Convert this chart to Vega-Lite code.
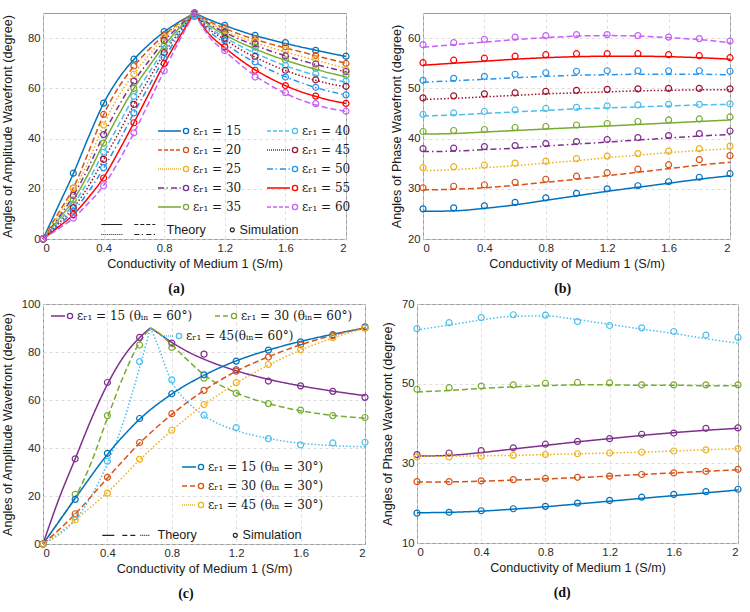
{
  "$schema": "https://vega.github.io/schema/vega-lite/v6.json",
  "background": "white",
  "padding": {"left": 0, "top": 7, "right": 4, "bottom": 4},
  "spacing": 0,
  "datasets": {
    "ta": [
      {"e":"15","s":"L","x":0,"y":0},{"e":"15","s":"L","x":0.1,"y":13},{"e":"15","s":"L","x":0.2,"y":26},{"e":"15","s":"L","x":0.3,"y":40.5},{"e":"15","s":"L","x":0.4,"y":54},{"e":"15","s":"L","x":0.5,"y":64},{"e":"15","s":"L","x":0.6,"y":71.5},{"e":"15","s":"L","x":0.7,"y":77.5},{"e":"15","s":"L","x":0.8,"y":82.5},{"e":"15","s":"L","x":0.9,"y":86.5},{"e":"15","s":"L","x":1,"y":90},
      {"e":"15","s":"R","x":1,"y":90},{"e":"15","s":"R","x":1.1,"y":87.3},{"e":"15","s":"R","x":1.2,"y":85},{"e":"15","s":"R","x":1.3,"y":82.9},{"e":"15","s":"R","x":1.4,"y":81},{"e":"15","s":"R","x":1.5,"y":79.4},{"e":"15","s":"R","x":1.6,"y":77.9},{"e":"15","s":"R","x":1.7,"y":76.5},{"e":"15","s":"R","x":1.8,"y":75.2},{"e":"15","s":"R","x":1.9,"y":73.9},{"e":"15","s":"R","x":2,"y":72.7},
      {"e":"20","s":"L","x":0,"y":0},{"e":"20","s":"L","x":0.1,"y":10.2},{"e":"20","s":"L","x":0.2,"y":20.3},{"e":"20","s":"L","x":0.3,"y":34.5},{"e":"20","s":"L","x":0.4,"y":49.5},{"e":"20","s":"L","x":0.5,"y":60.5},{"e":"20","s":"L","x":0.6,"y":68.8},{"e":"20","s":"L","x":0.7,"y":75.5},{"e":"20","s":"L","x":0.8,"y":81.2},{"e":"20","s":"L","x":0.9,"y":86},{"e":"20","s":"L","x":1,"y":90},
      {"e":"20","s":"R","x":1,"y":90},{"e":"20","s":"R","x":1.1,"y":86.6},{"e":"20","s":"R","x":1.2,"y":83.9},{"e":"20","s":"R","x":1.3,"y":81.5},{"e":"20","s":"R","x":1.4,"y":79.5},{"e":"20","s":"R","x":1.5,"y":77.7},{"e":"20","s":"R","x":1.6,"y":76.1},{"e":"20","s":"R","x":1.7,"y":74.6},{"e":"20","s":"R","x":1.8,"y":73},{"e":"20","s":"R","x":1.9,"y":71.5},{"e":"20","s":"R","x":2,"y":70},
      {"e":"25","s":"L","x":0,"y":0},{"e":"25","s":"L","x":0.1,"y":9.2},{"e":"25","s":"L","x":0.2,"y":18.8},{"e":"25","s":"L","x":0.3,"y":31},{"e":"25","s":"L","x":0.4,"y":45.4},{"e":"25","s":"L","x":0.5,"y":57},{"e":"25","s":"L","x":0.6,"y":65.8},{"e":"25","s":"L","x":0.7,"y":73.3},{"e":"25","s":"L","x":0.8,"y":80.2},{"e":"25","s":"L","x":0.9,"y":85.5},{"e":"25","s":"L","x":1,"y":90},
      {"e":"25","s":"R","x":1,"y":90},{"e":"25","s":"R","x":1.1,"y":86.1},{"e":"25","s":"R","x":1.2,"y":83},{"e":"25","s":"R","x":1.3,"y":80.4},{"e":"25","s":"R","x":1.4,"y":78.3},{"e":"25","s":"R","x":1.5,"y":76.3},{"e":"25","s":"R","x":1.6,"y":74.5},{"e":"25","s":"R","x":1.7,"y":72.8},{"e":"25","s":"R","x":1.8,"y":71.2},{"e":"25","s":"R","x":1.9,"y":69.6},{"e":"25","s":"R","x":2,"y":68},
      {"e":"30","s":"L","x":0,"y":0},{"e":"30","s":"L","x":0.1,"y":8.3},{"e":"30","s":"L","x":0.2,"y":17.2},{"e":"30","s":"L","x":0.3,"y":28.5},{"e":"30","s":"L","x":0.4,"y":41.5},{"e":"30","s":"L","x":0.5,"y":53},{"e":"30","s":"L","x":0.6,"y":62.8},{"e":"30","s":"L","x":0.7,"y":71},{"e":"30","s":"L","x":0.8,"y":78.8},{"e":"30","s":"L","x":0.9,"y":84.8},{"e":"30","s":"L","x":1,"y":90},
      {"e":"30","s":"R","x":1,"y":90},{"e":"30","s":"R","x":1.1,"y":85.6},{"e":"30","s":"R","x":1.2,"y":82.3},{"e":"30","s":"R","x":1.3,"y":79.5},{"e":"30","s":"R","x":1.4,"y":77.1},{"e":"30","s":"R","x":1.5,"y":74.9},{"e":"30","s":"R","x":1.6,"y":73},{"e":"30","s":"R","x":1.7,"y":71.2},{"e":"30","s":"R","x":1.8,"y":69.5},{"e":"30","s":"R","x":1.9,"y":68},{"e":"30","s":"R","x":2,"y":66.6},
      {"e":"35","s":"L","x":0,"y":0},{"e":"35","s":"L","x":0.1,"y":7.5},{"e":"35","s":"L","x":0.2,"y":15.5},{"e":"35","s":"L","x":0.3,"y":26},{"e":"35","s":"L","x":0.4,"y":38.2},{"e":"35","s":"L","x":0.5,"y":49.5},{"e":"35","s":"L","x":0.6,"y":60},{"e":"35","s":"L","x":0.7,"y":68.8},{"e":"35","s":"L","x":0.8,"y":77},{"e":"35","s":"L","x":0.9,"y":84},{"e":"35","s":"L","x":1,"y":90},
      {"e":"35","s":"R","x":1,"y":90},{"e":"35","s":"R","x":1.1,"y":85},{"e":"35","s":"R","x":1.2,"y":81.4},{"e":"35","s":"R","x":1.3,"y":78.3},{"e":"35","s":"R","x":1.4,"y":75.7},{"e":"35","s":"R","x":1.5,"y":73.3},{"e":"35","s":"R","x":1.6,"y":71.2},{"e":"35","s":"R","x":1.7,"y":69.3},{"e":"35","s":"R","x":1.8,"y":67.6},{"e":"35","s":"R","x":1.9,"y":66},{"e":"35","s":"R","x":2,"y":64.6},
      {"e":"40","s":"L","x":0,"y":0},{"e":"40","s":"L","x":0.1,"y":6.7},{"e":"40","s":"L","x":0.2,"y":13.8},{"e":"40","s":"L","x":0.3,"y":23.3},{"e":"40","s":"L","x":0.4,"y":34.5},{"e":"40","s":"L","x":0.5,"y":45.5},{"e":"40","s":"L","x":0.6,"y":56.7},{"e":"40","s":"L","x":0.7,"y":66.2},{"e":"40","s":"L","x":0.8,"y":75.4},{"e":"40","s":"L","x":0.9,"y":83.2},{"e":"40","s":"L","x":1,"y":90},
      {"e":"40","s":"R","x":1,"y":90},{"e":"40","s":"R","x":1.1,"y":84.2},{"e":"40","s":"R","x":1.2,"y":80.3},{"e":"40","s":"R","x":1.3,"y":76.9},{"e":"40","s":"R","x":1.4,"y":74},{"e":"40","s":"R","x":1.5,"y":71.4},{"e":"40","s":"R","x":1.6,"y":69},{"e":"40","s":"R","x":1.7,"y":67},{"e":"40","s":"R","x":1.8,"y":65.2},{"e":"40","s":"R","x":1.9,"y":63.7},{"e":"40","s":"R","x":2,"y":62.5},
      {"e":"45","s":"L","x":0,"y":0},{"e":"45","s":"L","x":0.1,"y":6},{"e":"45","s":"L","x":0.2,"y":12.4},{"e":"45","s":"L","x":0.3,"y":21},{"e":"45","s":"L","x":0.4,"y":31.6},{"e":"45","s":"L","x":0.5,"y":42.3},{"e":"45","s":"L","x":0.6,"y":53.5},{"e":"45","s":"L","x":0.7,"y":63.8},{"e":"45","s":"L","x":0.8,"y":74},{"e":"45","s":"L","x":0.9,"y":82.5},{"e":"45","s":"L","x":1,"y":90},
      {"e":"45","s":"R","x":1,"y":90},{"e":"45","s":"R","x":1.1,"y":83.5},{"e":"45","s":"R","x":1.2,"y":79.4},{"e":"45","s":"R","x":1.3,"y":75.6},{"e":"45","s":"R","x":1.4,"y":72.4},{"e":"45","s":"R","x":1.5,"y":69.6},{"e":"45","s":"R","x":1.6,"y":67.1},{"e":"45","s":"R","x":1.7,"y":65},{"e":"45","s":"R","x":1.8,"y":63.2},{"e":"45","s":"R","x":1.9,"y":61.7},{"e":"45","s":"R","x":2,"y":60.5},
      {"e":"50","s":"L","x":0,"y":0},{"e":"50","s":"L","x":0.1,"y":5.3},{"e":"50","s":"L","x":0.2,"y":11.1},{"e":"50","s":"L","x":0.3,"y":18.8},{"e":"50","s":"L","x":0.4,"y":28.2},{"e":"50","s":"L","x":0.5,"y":38.7},{"e":"50","s":"L","x":0.6,"y":50.2},{"e":"50","s":"L","x":0.7,"y":61},{"e":"50","s":"L","x":0.8,"y":72},{"e":"50","s":"L","x":0.9,"y":81.5},{"e":"50","s":"L","x":1,"y":90},
      {"e":"50","s":"R","x":1,"y":90},{"e":"50","s":"R","x":1.1,"y":82.6},{"e":"50","s":"R","x":1.2,"y":78},{"e":"50","s":"R","x":1.3,"y":73.8},{"e":"50","s":"R","x":1.4,"y":70.3},{"e":"50","s":"R","x":1.5,"y":67.3},{"e":"50","s":"R","x":1.6,"y":64.6},{"e":"50","s":"R","x":1.7,"y":62.3},{"e":"50","s":"R","x":1.8,"y":60.3},{"e":"50","s":"R","x":1.9,"y":58.7},{"e":"50","s":"R","x":2,"y":57.3},
      {"e":"55","s":"L","x":0,"y":0},{"e":"55","s":"L","x":0.1,"y":4.7},{"e":"55","s":"L","x":0.2,"y":9.7},{"e":"55","s":"L","x":0.3,"y":16.5},{"e":"55","s":"L","x":0.4,"y":24.5},{"e":"55","s":"L","x":0.5,"y":35},{"e":"55","s":"L","x":0.6,"y":46.3},{"e":"55","s":"L","x":0.7,"y":58},{"e":"55","s":"L","x":0.8,"y":69.8},{"e":"55","s":"L","x":0.9,"y":80.3},{"e":"55","s":"L","x":1,"y":90},
      {"e":"55","s":"R","x":1,"y":90},{"e":"55","s":"R","x":1.1,"y":81.4},{"e":"55","s":"R","x":1.2,"y":76.2},{"e":"55","s":"R","x":1.3,"y":71.5},{"e":"55","s":"R","x":1.4,"y":67.4},{"e":"55","s":"R","x":1.5,"y":64},{"e":"55","s":"R","x":1.6,"y":61.1},{"e":"55","s":"R","x":1.7,"y":58.7},{"e":"55","s":"R","x":1.8,"y":56.8},{"e":"55","s":"R","x":1.9,"y":55.2},{"e":"55","s":"R","x":2,"y":54},
      {"e":"60","s":"L","x":0,"y":0},{"e":"60","s":"L","x":0.1,"y":4},{"e":"60","s":"L","x":0.2,"y":8.3},{"e":"60","s":"L","x":0.3,"y":14.3},{"e":"60","s":"L","x":0.4,"y":21.3},{"e":"60","s":"L","x":0.5,"y":31},{"e":"60","s":"L","x":0.6,"y":42.2},{"e":"60","s":"L","x":0.7,"y":54.5},{"e":"60","s":"L","x":0.8,"y":67},{"e":"60","s":"L","x":0.9,"y":79},{"e":"60","s":"L","x":1,"y":90},
      {"e":"60","s":"R","x":1,"y":90},{"e":"60","s":"R","x":1.1,"y":80.3},{"e":"60","s":"R","x":1.2,"y":74.8},{"e":"60","s":"R","x":1.3,"y":69.6},{"e":"60","s":"R","x":1.4,"y":65},{"e":"60","s":"R","x":1.5,"y":61.2},{"e":"60","s":"R","x":1.6,"y":58},{"e":"60","s":"R","x":1.7,"y":55.4},{"e":"60","s":"R","x":1.8,"y":53.4},{"e":"60","s":"R","x":1.9,"y":51.9},{"e":"60","s":"R","x":2,"y":50.8}
    ],
    "sa": [
      {"e":"15","x":0,"y":0},{"e":"15","x":0.2,"y":26.2},{"e":"15","x":0.4,"y":54.1},{"e":"15","x":0.6,"y":71.6},{"e":"15","x":0.8,"y":82.6},{"e":"15","x":1,"y":89.5},{"e":"15","x":1.2,"y":85.1},{"e":"15","x":1.4,"y":81.1},{"e":"15","x":1.6,"y":78.2},{"e":"15","x":1.8,"y":75.1},{"e":"15","x":2,"y":72.8},
      {"e":"20","x":0,"y":0},{"e":"20","x":0.2,"y":20.3},{"e":"20","x":0.4,"y":49.6},{"e":"20","x":0.6,"y":68.9},{"e":"20","x":0.8,"y":81.3},{"e":"20","x":1,"y":90},{"e":"20","x":1.2,"y":84.1},{"e":"20","x":1.4,"y":79.8},{"e":"20","x":1.6,"y":76.6},{"e":"20","x":1.8,"y":73.1},{"e":"20","x":2,"y":69.9},
      {"e":"25","x":0,"y":0},{"e":"25","x":0.2,"y":20.2},{"e":"25","x":0.4,"y":45.4},{"e":"25","x":0.6,"y":65.6},{"e":"25","x":0.8,"y":80.3},{"e":"25","x":1,"y":90},{"e":"25","x":1.2,"y":83.3},{"e":"25","x":1.4,"y":78.7},{"e":"25","x":1.6,"y":75.3},{"e":"25","x":1.8,"y":71.8},{"e":"25","x":2,"y":67.4},
      {"e":"30","x":0,"y":0},{"e":"30","x":0.2,"y":17.4},{"e":"30","x":0.4,"y":41.6},{"e":"30","x":0.6,"y":62.9},{"e":"30","x":0.8,"y":79.1},{"e":"30","x":1,"y":90},{"e":"30","x":1.2,"y":82.4},{"e":"30","x":1.4,"y":77.7},{"e":"30","x":1.6,"y":72.9},{"e":"30","x":1.8,"y":69.7},{"e":"30","x":2,"y":66.7},
      {"e":"35","x":0,"y":0},{"e":"35","x":0.2,"y":15.6},{"e":"35","x":0.4,"y":38.2},{"e":"35","x":0.6,"y":60},{"e":"35","x":0.8,"y":77},{"e":"35","x":1,"y":90},{"e":"35","x":1.2,"y":81.6},{"e":"35","x":1.4,"y":76.4},{"e":"35","x":1.6,"y":71.3},{"e":"35","x":1.8,"y":68},{"e":"35","x":2,"y":65.1},
      {"e":"40","x":0,"y":0},{"e":"40","x":0.2,"y":13.8},{"e":"40","x":0.4,"y":34.5},{"e":"40","x":0.6,"y":56.8},{"e":"40","x":0.8,"y":75.6},{"e":"40","x":1,"y":89},{"e":"40","x":1.2,"y":80},{"e":"40","x":1.4,"y":75},{"e":"40","x":1.6,"y":69.2},{"e":"40","x":1.8,"y":65.8},{"e":"40","x":2,"y":62.9},
      {"e":"45","x":0,"y":0},{"e":"45","x":0.2,"y":12.5},{"e":"45","x":0.4,"y":31.7},{"e":"45","x":0.6,"y":53.6},{"e":"45","x":0.8,"y":74.2},{"e":"45","x":1,"y":90},{"e":"45","x":1.2,"y":79.9},{"e":"45","x":1.4,"y":72.7},{"e":"45","x":1.6,"y":67.2},{"e":"45","x":1.8,"y":63.4},{"e":"45","x":2,"y":60.8},
      {"e":"50","x":0,"y":0},{"e":"50","x":0.2,"y":11},{"e":"50","x":0.4,"y":28.4},{"e":"50","x":0.6,"y":50.2},{"e":"50","x":0.8,"y":72.1},{"e":"50","x":1,"y":88.6},{"e":"50","x":1.2,"y":79},{"e":"50","x":1.4,"y":70.5},{"e":"50","x":1.6,"y":64.5},{"e":"50","x":1.8,"y":60.4},{"e":"50","x":2,"y":57.4},
      {"e":"55","x":0,"y":0},{"e":"55","x":0.2,"y":9.7},{"e":"55","x":0.4,"y":24.3},{"e":"55","x":0.6,"y":46.3},{"e":"55","x":0.8,"y":69.9},{"e":"55","x":1,"y":90},{"e":"55","x":1.2,"y":76.5},{"e":"55","x":1.4,"y":67.2},{"e":"55","x":1.6,"y":61.1},{"e":"55","x":1.8,"y":56.9},{"e":"55","x":2,"y":54},
      {"e":"60","x":0,"y":0},{"e":"60","x":0.2,"y":8.3},{"e":"60","x":0.4,"y":21.2},{"e":"60","x":0.6,"y":42.3},{"e":"60","x":0.8,"y":67},{"e":"60","x":1,"y":90},{"e":"60","x":1.2,"y":75},{"e":"60","x":1.4,"y":64.5},{"e":"60","x":1.6,"y":58.3},{"e":"60","x":1.8,"y":53.9},{"e":"60","x":2,"y":50.9}
    ],
    "tb": [
      {"e":"15","x":0,"y":25.5},{"e":"15","x":0.2,"y":25.6},{"e":"15","x":0.4,"y":26.1},{"e":"15","x":0.6,"y":26.8},{"e":"15","x":0.8,"y":27.7},{"e":"15","x":1,"y":28.6},{"e":"15","x":1.2,"y":29.5},{"e":"15","x":1.4,"y":30.3},{"e":"15","x":1.6,"y":31.1},{"e":"15","x":1.8,"y":31.9},{"e":"15","x":2,"y":32.6},
      {"e":"20","x":0,"y":29.8},{"e":"20","x":0.2,"y":29.9},{"e":"20","x":0.4,"y":30.2},{"e":"20","x":0.6,"y":30.7},{"e":"20","x":0.8,"y":31.3},{"e":"20","x":1,"y":31.9},{"e":"20","x":1.2,"y":32.6},{"e":"20","x":1.4,"y":33.3},{"e":"20","x":1.6,"y":34},{"e":"20","x":1.8,"y":34.7},{"e":"20","x":2,"y":35.3},
      {"e":"25","x":0,"y":33.6},{"e":"25","x":0.2,"y":33.8},{"e":"25","x":0.4,"y":34.2},{"e":"25","x":0.6,"y":34.6},{"e":"25","x":0.8,"y":35.1},{"e":"25","x":1,"y":35.6},{"e":"25","x":1.2,"y":36.2},{"e":"25","x":1.4,"y":36.7},{"e":"25","x":1.6,"y":37.2},{"e":"25","x":1.8,"y":37.6},{"e":"25","x":2,"y":38},
      {"e":"30","x":0,"y":37.4},{"e":"30","x":0.2,"y":37.5},{"e":"30","x":0.4,"y":37.8},{"e":"30","x":0.6,"y":38.1},{"e":"30","x":0.8,"y":38.5},{"e":"30","x":1,"y":38.9},{"e":"30","x":1.2,"y":39.3},{"e":"30","x":1.4,"y":39.7},{"e":"30","x":1.6,"y":40.1},{"e":"30","x":1.8,"y":40.5},{"e":"30","x":2,"y":40.8},
      {"e":"35","x":0,"y":40.9},{"e":"35","x":0.2,"y":41},{"e":"35","x":0.4,"y":41.3},{"e":"35","x":0.6,"y":41.6},{"e":"35","x":0.8,"y":41.9},{"e":"35","x":1,"y":42.2},{"e":"35","x":1.2,"y":42.5},{"e":"35","x":1.4,"y":42.8},{"e":"35","x":1.6,"y":43.1},{"e":"35","x":1.8,"y":43.4},{"e":"35","x":2,"y":43.7},
      {"e":"40","x":0,"y":44.5},{"e":"40","x":0.2,"y":44.7},{"e":"40","x":0.4,"y":45},{"e":"40","x":0.6,"y":45.3},{"e":"40","x":0.8,"y":45.6},{"e":"40","x":1,"y":45.9},{"e":"40","x":1.2,"y":46.1},{"e":"40","x":1.4,"y":46.3},{"e":"40","x":1.6,"y":46.5},{"e":"40","x":1.8,"y":46.7},{"e":"40","x":2,"y":46.8},
      {"e":"45","x":0,"y":47.8},{"e":"45","x":0.2,"y":48},{"e":"45","x":0.4,"y":48.3},{"e":"45","x":0.6,"y":48.6},{"e":"45","x":0.8,"y":48.9},{"e":"45","x":1,"y":49.1},{"e":"45","x":1.2,"y":49.3},{"e":"45","x":1.4,"y":49.5},{"e":"45","x":1.6,"y":49.6},{"e":"45","x":1.8,"y":49.7},{"e":"45","x":2,"y":49.7},
      {"e":"50","x":0,"y":51.2},{"e":"50","x":0.2,"y":51.5},{"e":"50","x":0.4,"y":51.8},{"e":"50","x":0.6,"y":52.1},{"e":"50","x":0.8,"y":52.4},{"e":"50","x":1,"y":52.6},{"e":"50","x":1.2,"y":52.7},{"e":"50","x":1.4,"y":52.8},{"e":"50","x":1.6,"y":52.8},{"e":"50","x":1.8,"y":52.8},{"e":"50","x":2,"y":52.7},
      {"e":"55","x":0,"y":54.6},{"e":"55","x":0.2,"y":55},{"e":"55","x":0.4,"y":55.4},{"e":"55","x":0.6,"y":55.8},{"e":"55","x":0.8,"y":56.1},{"e":"55","x":1,"y":56.3},{"e":"55","x":1.2,"y":56.4},{"e":"55","x":1.4,"y":56.4},{"e":"55","x":1.6,"y":56.3},{"e":"55","x":1.8,"y":56.1},{"e":"55","x":2,"y":55.8},
      {"e":"60","x":0,"y":58.2},{"e":"60","x":0.2,"y":58.7},{"e":"60","x":0.4,"y":59.2},{"e":"60","x":0.6,"y":59.7},{"e":"60","x":0.8,"y":60.1},{"e":"60","x":1,"y":60.4},{"e":"60","x":1.2,"y":60.5},{"e":"60","x":1.4,"y":60.4},{"e":"60","x":1.6,"y":60.1},{"e":"60","x":1.8,"y":59.7},{"e":"60","x":2,"y":59.1}
    ],
    "sb": [
      {"e":"15","x":0,"y":26},{"e":"15","x":0.2,"y":26.2},{"e":"15","x":0.4,"y":26.6},{"e":"15","x":0.6,"y":27.3},{"e":"15","x":0.8,"y":28.2},{"e":"15","x":1,"y":29.1},{"e":"15","x":1.2,"y":30},{"e":"15","x":1.4,"y":30.6},{"e":"15","x":1.6,"y":31.4},{"e":"15","x":1.8,"y":32.3},{"e":"15","x":2,"y":33},
      {"e":"20","x":0,"y":30.2},{"e":"20","x":0.2,"y":30.5},{"e":"20","x":0.4,"y":30.8},{"e":"20","x":0.6,"y":31.3},{"e":"20","x":0.8,"y":31.9},{"e":"20","x":1,"y":32.5},{"e":"20","x":1.2,"y":33.2},{"e":"20","x":1.4,"y":33.9},{"e":"20","x":1.6,"y":34.8},{"e":"20","x":1.8,"y":35.8},{"e":"20","x":2,"y":36.6},
      {"e":"25","x":0,"y":34.2},{"e":"25","x":0.2,"y":34.4},{"e":"25","x":0.4,"y":34.7},{"e":"25","x":0.6,"y":35.1},{"e":"25","x":0.8,"y":35.5},{"e":"25","x":1,"y":36},{"e":"25","x":1.2,"y":36.5},{"e":"25","x":1.4,"y":37},{"e":"25","x":1.6,"y":37.5},{"e":"25","x":1.8,"y":38},{"e":"25","x":2,"y":38.5},
      {"e":"30","x":0,"y":38},{"e":"30","x":0.2,"y":38.1},{"e":"30","x":0.4,"y":38.4},{"e":"30","x":0.6,"y":38.6},{"e":"30","x":0.8,"y":39},{"e":"30","x":1,"y":39.4},{"e":"30","x":1.2,"y":39.8},{"e":"30","x":1.4,"y":40.2},{"e":"30","x":1.6,"y":40.6},{"e":"30","x":1.8,"y":41},{"e":"30","x":2,"y":41.5},
      {"e":"35","x":0,"y":41.4},{"e":"35","x":0.2,"y":41.6},{"e":"35","x":0.4,"y":41.8},{"e":"35","x":0.6,"y":42.2},{"e":"35","x":0.8,"y":42.4},{"e":"35","x":1,"y":42.7},{"e":"35","x":1.2,"y":43},{"e":"35","x":1.4,"y":43.4},{"e":"35","x":1.6,"y":43.7},{"e":"35","x":1.8,"y":43.9},{"e":"35","x":2,"y":44.3},
      {"e":"40","x":0,"y":44.8},{"e":"40","x":0.2,"y":45.1},{"e":"40","x":0.4,"y":45.4},{"e":"40","x":0.6,"y":45.7},{"e":"40","x":0.8,"y":46},{"e":"40","x":1,"y":46.2},{"e":"40","x":1.2,"y":46.5},{"e":"40","x":1.4,"y":46.7},{"e":"40","x":1.6,"y":46.8},{"e":"40","x":1.8,"y":46.8},{"e":"40","x":2,"y":46.9},
      {"e":"45","x":0,"y":48.1},{"e":"45","x":0.2,"y":48.5},{"e":"45","x":0.4,"y":48.9},{"e":"45","x":0.6,"y":49.1},{"e":"45","x":0.8,"y":49.4},{"e":"45","x":1,"y":49.6},{"e":"45","x":1.2,"y":49.8},{"e":"45","x":1.4,"y":49.9},{"e":"45","x":1.6,"y":50},{"e":"45","x":1.8,"y":50},{"e":"45","x":2,"y":49.9},
      {"e":"50","x":0,"y":51.6},{"e":"50","x":0.2,"y":52},{"e":"50","x":0.4,"y":52.4},{"e":"50","x":0.6,"y":52.8},{"e":"50","x":0.8,"y":53.1},{"e":"50","x":1,"y":53.4},{"e":"50","x":1.2,"y":53.5},{"e":"50","x":1.4,"y":53.5},{"e":"50","x":1.6,"y":53.5},{"e":"50","x":1.8,"y":53.5},{"e":"50","x":2,"y":53.4},
      {"e":"55","x":0,"y":55.1},{"e":"55","x":0.2,"y":55.6},{"e":"55","x":0.4,"y":56},{"e":"55","x":0.6,"y":56.4},{"e":"55","x":0.8,"y":56.7},{"e":"55","x":1,"y":56.9},{"e":"55","x":1.2,"y":56.9},{"e":"55","x":1.4,"y":56.9},{"e":"55","x":1.6,"y":56.7},{"e":"55","x":1.8,"y":56.5},{"e":"55","x":2,"y":56.1},
      {"e":"60","x":0,"y":58.7},{"e":"60","x":0.2,"y":59.1},{"e":"60","x":0.4,"y":59.75},{"e":"60","x":0.6,"y":60.2},{"e":"60","x":0.8,"y":60.5},{"e":"60","x":1,"y":60.7},{"e":"60","x":1.2,"y":60.7},{"e":"60","x":1.4,"y":60.5},{"e":"60","x":1.6,"y":60.2},{"e":"60","x":1.8,"y":59.9},{"e":"60","x":2,"y":59.4}
    ],
    "tc": [
      {"e":"15|60","s":"L","x":0,"y":0},{"e":"15|60","s":"L","x":0.1,"y":19},{"e":"15|60","s":"L","x":0.2,"y":35.5},{"e":"15|60","s":"L","x":0.3,"y":52},{"e":"15|60","s":"L","x":0.4,"y":66.5},{"e":"15|60","s":"L","x":0.5,"y":78},{"e":"15|60","s":"L","x":0.6,"y":86},{"e":"15|60","s":"L","x":0.6667,"y":90},
      {"e":"15|60","s":"R","x":0.6667,"y":90},{"e":"15|60","s":"R","x":0.7,"y":88.6},{"e":"15|60","s":"R","x":0.8,"y":84},{"e":"15|60","s":"R","x":0.9,"y":80.1},{"e":"15|60","s":"R","x":1,"y":77},{"e":"15|60","s":"R","x":1.2,"y":72.2},{"e":"15|60","s":"R","x":1.4,"y":68.6},{"e":"15|60","s":"R","x":1.6,"y":65.9},{"e":"15|60","s":"R","x":1.8,"y":63.7},{"e":"15|60","s":"R","x":2,"y":61.8},
      {"e":"30|60","s":"L","x":0,"y":0},{"e":"30|60","s":"L","x":0.1,"y":9.5},{"e":"30|60","s":"L","x":0.2,"y":19.5},{"e":"30|60","s":"L","x":0.3,"y":34},{"e":"30|60","s":"L","x":0.4,"y":52.5},{"e":"30|60","s":"L","x":0.5,"y":70},{"e":"30|60","s":"L","x":0.6,"y":84},{"e":"30|60","s":"L","x":0.6667,"y":90},
      {"e":"30|60","s":"R","x":0.6667,"y":90},{"e":"30|60","s":"R","x":0.7,"y":88.8},{"e":"30|60","s":"R","x":0.8,"y":83},{"e":"30|60","s":"R","x":0.9,"y":76.5},{"e":"30|60","s":"R","x":1,"y":70.5},{"e":"30|60","s":"R","x":1.2,"y":63},{"e":"30|60","s":"R","x":1.4,"y":58.5},{"e":"30|60","s":"R","x":1.6,"y":55.5},{"e":"30|60","s":"R","x":1.8,"y":53.6},{"e":"30|60","s":"R","x":2,"y":52.4},
      {"e":"45|60","s":"L","x":0,"y":0},{"e":"45|60","s":"L","x":0.1,"y":4},{"e":"45|60","s":"L","x":0.2,"y":10},{"e":"45|60","s":"L","x":0.3,"y":20},{"e":"45|60","s":"L","x":0.4,"y":33.5},{"e":"45|60","s":"L","x":0.5,"y":51},{"e":"45|60","s":"L","x":0.6,"y":73.5},{"e":"45|60","s":"L","x":0.6667,"y":90},
      {"e":"45|60","s":"R","x":0.6667,"y":90},{"e":"45|60","s":"R","x":0.7,"y":85},{"e":"45|60","s":"R","x":0.8,"y":67.5},{"e":"45|60","s":"R","x":0.9,"y":59},{"e":"45|60","s":"R","x":1,"y":53.5},{"e":"45|60","s":"R","x":1.2,"y":47.3},{"e":"45|60","s":"R","x":1.4,"y":44},{"e":"45|60","s":"R","x":1.6,"y":42},{"e":"45|60","s":"R","x":1.8,"y":41},{"e":"45|60","s":"R","x":2,"y":40.5},
      {"e":"15|30","s":"A","x":0,"y":0},{"e":"15|30","s":"A","x":0.1,"y":9.5},{"e":"15|30","s":"A","x":0.2,"y":19},{"e":"15|30","s":"A","x":0.4,"y":37.3},{"e":"15|30","s":"A","x":0.6,"y":52},{"e":"15|30","s":"A","x":0.8,"y":62.5},{"e":"15|30","s":"A","x":1,"y":70.3},{"e":"15|30","s":"A","x":1.2,"y":76.3},{"e":"15|30","s":"A","x":1.4,"y":80.8},{"e":"15|30","s":"A","x":1.6,"y":84.4},{"e":"15|30","s":"A","x":1.8,"y":87.4},{"e":"15|30","s":"A","x":2,"y":90},
      {"e":"30|30","s":"A","x":0,"y":0},{"e":"30|30","s":"A","x":0.1,"y":6},{"e":"30|30","s":"A","x":0.2,"y":12.5},{"e":"30|30","s":"A","x":0.4,"y":27.5},{"e":"30|30","s":"A","x":0.6,"y":42},{"e":"30|30","s":"A","x":0.8,"y":54},{"e":"30|30","s":"A","x":1,"y":64},{"e":"30|30","s":"A","x":1.2,"y":72},{"e":"30|30","s":"A","x":1.4,"y":78},{"e":"30|30","s":"A","x":1.6,"y":83},{"e":"30|30","s":"A","x":1.8,"y":87},{"e":"30|30","s":"A","x":2,"y":90},
      {"e":"45|30","s":"A","x":0,"y":0},{"e":"45|30","s":"A","x":0.1,"y":4.5},{"e":"45|30","s":"A","x":0.2,"y":10},{"e":"45|30","s":"A","x":0.4,"y":21.5},{"e":"45|30","s":"A","x":0.6,"y":35},{"e":"45|30","s":"A","x":0.8,"y":47.3},{"e":"45|30","s":"A","x":1,"y":58},{"e":"45|30","s":"A","x":1.2,"y":67},{"e":"45|30","s":"A","x":1.4,"y":74.5},{"e":"45|30","s":"A","x":1.6,"y":80.8},{"e":"45|30","s":"A","x":1.8,"y":85.8},{"e":"45|30","s":"A","x":2,"y":90}
    ],
    "sc": [
      {"e":"15|60","x":0,"y":0},{"e":"15|60","x":0.2,"y":35.5},{"e":"15|60","x":0.4,"y":67.3},{"e":"15|60","x":0.6,"y":86.1},{"e":"15|60","x":0.8,"y":83.7},{"e":"15|60","x":1,"y":79.1},{"e":"15|60","x":1.2,"y":72.6},{"e":"15|60","x":1.4,"y":67.9},{"e":"15|60","x":1.6,"y":65.9},{"e":"15|60","x":1.8,"y":63.6},{"e":"15|60","x":2,"y":61.1},
      {"e":"30|60","x":0,"y":0},{"e":"30|60","x":0.2,"y":20.7},{"e":"30|60","x":0.4,"y":53.5},{"e":"30|60","x":0.6,"y":82.9},{"e":"30|60","x":0.8,"y":81.9},{"e":"30|60","x":1,"y":69.1},{"e":"30|60","x":1.2,"y":62.8},{"e":"30|60","x":1.4,"y":58.5},{"e":"30|60","x":1.6,"y":55.8},{"e":"30|60","x":1.8,"y":53.5},{"e":"30|60","x":2,"y":52.7},
      {"e":"45|60","x":0,"y":0},{"e":"45|60","x":0.2,"y":11.4},{"e":"45|60","x":0.4,"y":34.5},{"e":"45|60","x":0.6,"y":76},{"e":"45|60","x":0.8,"y":68.4},{"e":"45|60","x":1,"y":53.7},{"e":"45|60","x":1.2,"y":48.5},{"e":"45|60","x":1.4,"y":43.9},{"e":"45|60","x":1.6,"y":41.3},{"e":"45|60","x":1.8,"y":42.1},{"e":"45|60","x":2,"y":42.4},
      {"e":"15|30","x":0,"y":0},{"e":"15|30","x":0.2,"y":18.6},{"e":"15|30","x":0.4,"y":37.8},{"e":"15|30","x":0.6,"y":52.3},{"e":"15|30","x":0.8,"y":62.6},{"e":"15|30","x":1,"y":70.5},{"e":"15|30","x":1.2,"y":76.2},{"e":"15|30","x":1.4,"y":80.8},{"e":"15|30","x":1.6,"y":84.2},{"e":"15|30","x":1.8,"y":87.2},{"e":"15|30","x":2,"y":90.5},
      {"e":"30|30","x":0,"y":0},{"e":"30|30","x":0.2,"y":12.6},{"e":"30|30","x":0.4,"y":27.8},{"e":"30|30","x":0.6,"y":42.3},{"e":"30|30","x":0.8,"y":54.3},{"e":"30|30","x":1,"y":64},{"e":"30|30","x":1.2,"y":72},{"e":"30|30","x":1.4,"y":77.9},{"e":"30|30","x":1.6,"y":83},{"e":"30|30","x":1.8,"y":86.8},{"e":"30|30","x":2,"y":90},
      {"e":"45|30","x":0,"y":0},{"e":"45|30","x":0.2,"y":10},{"e":"45|30","x":0.4,"y":21.2},{"e":"45|30","x":0.6,"y":35.3},{"e":"45|30","x":0.8,"y":47.4},{"e":"45|30","x":1,"y":58.1},{"e":"45|30","x":1.2,"y":67.2},{"e":"45|30","x":1.4,"y":74.8},{"e":"45|30","x":1.6,"y":81},{"e":"45|30","x":1.8,"y":86},{"e":"45|30","x":2,"y":90}
    ],
    "td": [
      {"e":"45|60","x":0,"y":63.5},{"e":"45|60","x":0.2,"y":64.7},{"e":"45|60","x":0.4,"y":66},{"e":"45|60","x":0.6,"y":66.9},{"e":"45|60","x":0.8,"y":67},{"e":"45|60","x":1,"y":66.1},{"e":"45|60","x":1.2,"y":64.9},{"e":"45|60","x":1.4,"y":63.7},{"e":"45|60","x":1.6,"y":62.6},{"e":"45|60","x":1.8,"y":61.3},{"e":"45|60","x":2,"y":60.2},
      {"e":"30|60","x":0,"y":47.9},{"e":"30|60","x":0.2,"y":48.3},{"e":"30|60","x":0.4,"y":48.8},{"e":"30|60","x":0.6,"y":49.2},{"e":"30|60","x":0.8,"y":49.5},{"e":"30|60","x":1,"y":49.7},{"e":"30|60","x":1.2,"y":49.7},{"e":"30|60","x":1.4,"y":49.6},{"e":"30|60","x":1.6,"y":49.6},{"e":"30|60","x":1.8,"y":49.5},{"e":"30|60","x":2,"y":49.5},
      {"e":"15|60","x":0,"y":31.8},{"e":"15|60","x":0.2,"y":32},{"e":"15|60","x":0.4,"y":32.7},{"e":"15|60","x":0.6,"y":33.6},{"e":"15|60","x":0.8,"y":34.5},{"e":"15|60","x":1,"y":35.4},{"e":"15|60","x":1.2,"y":36.2},{"e":"15|60","x":1.4,"y":37},{"e":"15|60","x":1.6,"y":37.7},{"e":"15|60","x":1.8,"y":38.3},{"e":"15|60","x":2,"y":38.8},
      {"e":"45|30","x":0,"y":31.8},{"e":"45|30","x":0.2,"y":31.8},{"e":"45|30","x":0.4,"y":31.9},{"e":"45|30","x":0.6,"y":32},{"e":"45|30","x":0.8,"y":32.2},{"e":"45|30","x":1,"y":32.4},{"e":"45|30","x":1.2,"y":32.6},{"e":"45|30","x":1.4,"y":32.8},{"e":"45|30","x":1.6,"y":33.1},{"e":"45|30","x":1.8,"y":33.4},{"e":"45|30","x":2,"y":33.7},
      {"e":"30|30","x":0,"y":25.3},{"e":"30|30","x":0.2,"y":25.35},{"e":"30|30","x":0.4,"y":25.5},{"e":"30|30","x":0.6,"y":25.8},{"e":"30|30","x":0.8,"y":26.1},{"e":"30|30","x":1,"y":26.4},{"e":"30|30","x":1.2,"y":26.8},{"e":"30|30","x":1.4,"y":27.2},{"e":"30|30","x":1.6,"y":27.6},{"e":"30|30","x":1.8,"y":28},{"e":"30|30","x":2,"y":28.4},
      {"e":"15|30","x":0,"y":17.6},{"e":"15|30","x":0.2,"y":17.7},{"e":"15|30","x":0.4,"y":18},{"e":"15|30","x":0.6,"y":18.5},{"e":"15|30","x":0.8,"y":19.1},{"e":"15|30","x":1,"y":19.8},{"e":"15|30","x":1.2,"y":20.5},{"e":"15|30","x":1.4,"y":21.2},{"e":"15|30","x":1.6,"y":21.9},{"e":"15|30","x":1.8,"y":22.6},{"e":"15|30","x":2,"y":23.3}
    ],
    "sd": [
      {"e":"45|60","x":0,"y":63.8},{"e":"45|60","x":0.2,"y":65.3},{"e":"45|60","x":0.4,"y":66.6},{"e":"45|60","x":0.6,"y":67.3},{"e":"45|60","x":0.8,"y":67.2},{"e":"45|60","x":1,"y":65.6},{"e":"45|60","x":1.2,"y":64.6},{"e":"45|60","x":1.4,"y":64},{"e":"45|60","x":1.6,"y":63.1},{"e":"45|60","x":1.8,"y":62.2},{"e":"45|60","x":2,"y":61.6},
      {"e":"30|60","x":0,"y":48.6},{"e":"30|60","x":0.2,"y":49},{"e":"30|60","x":0.4,"y":49.4},{"e":"30|60","x":0.6,"y":49.7},{"e":"30|60","x":0.8,"y":50.1},{"e":"30|60","x":1,"y":50.3},{"e":"30|60","x":1.2,"y":50.2},{"e":"30|60","x":1.4,"y":49.7},{"e":"30|60","x":1.6,"y":49.7},{"e":"30|60","x":1.8,"y":49.7},{"e":"30|60","x":2,"y":49.7},
      {"e":"15|60","x":0,"y":32.2},{"e":"15|60","x":0.2,"y":32.6},{"e":"15|60","x":0.4,"y":33.2},{"e":"15|60","x":0.6,"y":33.9},{"e":"15|60","x":0.8,"y":34.8},{"e":"15|60","x":1,"y":35.5},{"e":"15|60","x":1.2,"y":36.2},{"e":"15|60","x":1.4,"y":37.3},{"e":"15|60","x":1.6,"y":37.6},{"e":"15|60","x":1.8,"y":38.8},{"e":"15|60","x":2,"y":38.9},
      {"e":"45|30","x":0,"y":31.6},{"e":"45|30","x":0.2,"y":31.6},{"e":"45|30","x":0.4,"y":31.8},{"e":"45|30","x":0.6,"y":32},{"e":"45|30","x":0.8,"y":32.2},{"e":"45|30","x":1,"y":32.4},{"e":"45|30","x":1.2,"y":32.6},{"e":"45|30","x":1.4,"y":32.8},{"e":"45|30","x":1.6,"y":33.1},{"e":"45|30","x":1.8,"y":33.4},{"e":"45|30","x":2,"y":33.7},
      {"e":"30|30","x":0,"y":25.4},{"e":"30|30","x":0.2,"y":25.4},{"e":"30|30","x":0.4,"y":25.6},{"e":"30|30","x":0.6,"y":25.9},{"e":"30|30","x":0.8,"y":26.2},{"e":"30|30","x":1,"y":26.5},{"e":"30|30","x":1.2,"y":26.8},{"e":"30|30","x":1.4,"y":27.2},{"e":"30|30","x":1.6,"y":27.6},{"e":"30|30","x":1.8,"y":28},{"e":"30|30","x":2,"y":28.5},
      {"e":"15|30","x":0,"y":17.5},{"e":"15|30","x":0.2,"y":17.7},{"e":"15|30","x":0.4,"y":18.1},{"e":"15|30","x":0.6,"y":18.6},{"e":"15|30","x":0.8,"y":19.2},{"e":"15|30","x":1,"y":20},{"e":"15|30","x":1.2,"y":20.7},{"e":"15|30","x":1.4,"y":21.5},{"e":"15|30","x":1.6,"y":22.2},{"e":"15|30","x":1.8,"y":22.9},{"e":"15|30","x":2,"y":23.5}
    ]
  },
  "resolve": {
    "scale": {"color": "independent", "strokeDash": "independent", "shape": "independent"},
    "legend": {"color": "independent", "shape": "independent"}
  },
  "vconcat": [
    {
      "spacing": 37,
      "resolve": {
        "scale": {"color": "independent", "strokeDash": "independent", "shape": "independent"},
        "legend": {"color": "independent", "shape": "independent"}
      },
      "hconcat": [
        {
          "width": 303,
          "height": 226,
          "title": {"text": "(a)"},
          "resolve": {
            "scale": {"color": "independent", "strokeDash": "independent", "shape": "independent"},
            "legend": {"color": "independent", "shape": "independent"}
          },
          "layer": [
            {
              "data": {"name": "ta"},
              "mark": {"type": "line", "strokeWidth": 1.5, "interpolate": "monotone"},
              "encoding": {
                "x": {"field": "x", "type": "quantitative", "scale": {"domain": [0, 2], "nice": false},
                      "axis": {"title": "Conductivity of Medium 1 (S/m)", "values": [0,0.2,0.4,0.6,0.8,1,1.2,1.4,1.6,1.8,2], "format": "~g", "labelOverlap": false}},
                "y": {"field": "y", "type": "quantitative", "scale": {"domain": [0, 90], "nice": false},
                      "axis": {"title": "Angles of Amplitude Wavefront (degree)", "values": [0,10,20,30,40,50,60,70,80,90], "titleX": -28.5, "labelOverlap": false}},
                "color": {"field": "e", "type": "nominal", "legend": null,
                          "scale": {"domain": ["15","20","25","30","35","40","45","50","55","60"],
                                    "range": ["#0072BD","#D95319","#EDB120","#7E2F8E","#77AC30","#4DBEEE","#A2142F","#2394F0","#FF0000","#C561F5"]}},
                "strokeDash": {"field": "e", "type": "nominal", "legend": null,
                               "scale": {"domain": ["15","20","25","30","35","40","45","50","55","60"],
                                         "range": [[1,0],[6,3],[1.5,2],[6,3,1.5,3],[1,0],[6,3],[1.5,2],[6,3,1.5,3],[1,0],[6,3]]}},
                "detail": {"field": "s"}
              }
            },
            {
              "data": {"name": "sa"},
              "mark": {"type": "point", "filled": false, "size": 36, "strokeWidth": 1.2, "opacity": 1},
              "encoding": {
                "x": {"field": "x", "type": "quantitative"},
                "y": {"field": "y", "type": "quantitative"},
                "color": {"field": "e", "type": "nominal", "legend": null,
                          "scale": {"domain": ["15","20","25","30","35","40","45","50","55","60"],
                                    "range": ["#0072BD","#D95319","#EDB120","#7E2F8E","#77AC30","#4DBEEE","#A2142F","#2394F0","#FF0000","#C561F5"]}}
              }
            },
            {
              "data": {"name": "sa"},
              "mark": {"type": "point", "filled": false, "opacity": 0, "size": 0.04, "color": "#222222"},
              "encoding": {
                "x": {"field": "x", "type": "quantitative"},
                "y": {"field": "y", "type": "quantitative"},
                "shape": {"datum": "Simulation",
                  "scale": {"domain": ["Theory", "Simulation"],
                            "range": ["M-58,-5H-37M-25,-5h4M-19,-5h4M-13,-5h4M-7,-5h3M-58,5h1M-56,5h1M-54,5h1M-52,5h1M-50,5h1M-48,5h1M-46,5h1M-44,5h1M-42,5h1M-40,5h1M-38,5h1M-25,5h5M-17.5,5h1.2M-13,5h5M-5.5,5h1.2",
                                      "M-2,0a2,2 0 1,0 4,0a2,2 0 1,0 -4,0"]},
                  "legend": {
                    "title": null, "orient": "none", "legendX": 110, "legendY": 210,
                    "direction": "horizontal", "columnPadding": 20, "symbolSize": 4, "symbolOpacity": 1,
                    "symbolStrokeColor": "#222222", "symbolFillColor": "transparent", "symbolStrokeWidth": 1.1,
                    "labelFont": "Liberation Sans", "labelFontSize": 12.6
                  }}
              }
            },
            {
              "data": {"name": "sa"},
              "mark": {"type": "point", "filled": false, "opacity": 0, "size": 0.04},
              "encoding": {
                "x": {"field": "x", "type": "quantitative"},
                "y": {"field": "y", "type": "quantitative"},
                "color": {"field": "e", "type": "nominal",
                          "scale": {"domain": ["15","20","25","30","35","40","45","50","55","60"],
                                    "range": ["#0072BD","#D95319","#EDB120","#7E2F8E","#77AC30","#4DBEEE","#A2142F","#2394F0","#FF0000","#C561F5"]},
                          "legend": {"title": null, "orient": "none", "legendX": 137, "legendY": 112, "columns": 2, "columnPadding": 22, "rowPadding": 7, "symbolOpacity": 1, "symbolSize": 4, "labelExpr": "'εᵣ₁ = ' + datum.label"}},
                "shape": {"field": "e", "type": "nominal",
                          "scale": {"domain": ["15","20","25","30","35","40","45","50","55","60"],
                                    "range": [
                                      "M-28,0H-5M-2.6,0a2.6,2.6 0 1,0 5.2,0a2.6,2.6 0 1,0 -5.2,0",
                                      "M-28,0h4M-22,0h4M-16,0h4M-10,0h4M-2.6,0a2.6,2.6 0 1,0 5.2,0a2.6,2.6 0 1,0 -5.2,0",
                                      "M-28,0h1M-26,0h1M-24,0h1M-22,0h1M-20,0h1M-18,0h1M-16,0h1M-14,0h1M-12,0h1M-10,0h1M-8,0h1M-6,0h1M-2.6,0a2.6,2.6 0 1,0 5.2,0a2.6,2.6 0 1,0 -5.2,0",
                                      "M-28,0h6M-19.5,0h1.2M-15,0h6M-6.5,0h1.2M-2.6,0a2.6,2.6 0 1,0 5.2,0a2.6,2.6 0 1,0 -5.2,0",
                                      "M-28,0H-5M-2.6,0a2.6,2.6 0 1,0 5.2,0a2.6,2.6 0 1,0 -5.2,0",
                                      "M-28,0h4M-22,0h4M-16,0h4M-10,0h4M-2.6,0a2.6,2.6 0 1,0 5.2,0a2.6,2.6 0 1,0 -5.2,0",
                                      "M-28,0h1M-26,0h1M-24,0h1M-22,0h1M-20,0h1M-18,0h1M-16,0h1M-14,0h1M-12,0h1M-10,0h1M-8,0h1M-6,0h1M-2.6,0a2.6,2.6 0 1,0 5.2,0a2.6,2.6 0 1,0 -5.2,0",
                                      "M-28,0h6M-19.5,0h1.2M-15,0h6M-6.5,0h1.2M-2.6,0a2.6,2.6 0 1,0 5.2,0a2.6,2.6 0 1,0 -5.2,0",
                                      "M-28,0H-5M-2.6,0a2.6,2.6 0 1,0 5.2,0a2.6,2.6 0 1,0 -5.2,0",
                                      "M-28,0h4M-22,0h4M-16,0h4M-10,0h4M-2.6,0a2.6,2.6 0 1,0 5.2,0a2.6,2.6 0 1,0 -5.2,0"
                                    ]},
                          "legend": {"title": null, "orient": "none", "legendX": 137, "legendY": 112, "columns": 2, "columnPadding": 22, "rowPadding": 7, "symbolOpacity": 1, "symbolSize": 4, "labelExpr": "'εᵣ₁ = ' + datum.label"}}
              }
            }
          ]
        },
        {
          "width": 307,
          "height": 226,
          "title": {"text": "(b)"},
          "layer": [
            {
              "data": {"name": "tb"},
              "mark": {"type": "line", "strokeWidth": 1.5, "interpolate": "monotone"},
              "encoding": {
                "x": {"field": "x", "type": "quantitative", "scale": {"domain": [0, 2], "nice": false},
                      "axis": {"title": "Conductivity of Medium 1 (S/m)", "values": [0,0.2,0.4,0.6,0.8,1,1.2,1.4,1.6,1.8,2], "format": "~g", "labelOverlap": false}},
                "y": {"field": "y", "type": "quantitative", "scale": {"domain": [20, 65], "nice": false},
                      "axis": {"title": "Angles of Phase Wavefront (degree)", "values": [20,25,30,35,40,45,50,55,60,65], "titleX": -20, "labelOverlap": false}},
                "color": {"field": "e", "type": "nominal", "legend": null,
                          "scale": {"domain": ["15","20","25","30","35","40","45","50","55","60"],
                                    "range": ["#0072BD","#D95319","#EDB120","#7E2F8E","#77AC30","#4DBEEE","#A2142F","#2394F0","#FF0000","#C561F5"]}},
                "strokeDash": {"field": "e", "type": "nominal", "legend": null,
                               "scale": {"domain": ["15","20","25","30","35","40","45","50","55","60"],
                                         "range": [[1,0],[6,3],[1.5,2],[6,3,1.5,3],[1,0],[6,3],[1.5,2],[6,3,1.5,3],[1,0],[6,3]]}}
              }
            },
            {
              "data": {"name": "sb"},
              "mark": {"type": "point", "filled": false, "size": 36, "strokeWidth": 1.2, "opacity": 1},
              "encoding": {
                "x": {"field": "x", "type": "quantitative"},
                "y": {"field": "y", "type": "quantitative"},
                "color": {"field": "e", "type": "nominal", "legend": null}
              }
            }
          ]
        }
      ]
    },
    {
      "spacing": 9,
      "resolve": {
        "scale": {"color": "independent", "strokeDash": "independent", "shape": "independent"},
        "legend": {"color": "independent", "shape": "independent"}
      },
      "hconcat": [
        {
          "width": 322,
          "height": 240,
          "title": {"text": "(c)"},
          "resolve": {
            "scale": {"color": "independent", "strokeDash": "independent", "shape": "independent"},
            "legend": {"color": "independent", "shape": "independent"}
          },
          "layer": [
            {
              "data": {"name": "tc"},
              "mark": {"type": "line", "strokeWidth": 1.5, "interpolate": "monotone"},
              "encoding": {
                "x": {"field": "x", "type": "quantitative", "scale": {"domain": [0, 2], "nice": false},
                      "axis": {"title": "Conductivity of Medium 1 (S/m)", "values": [0,0.2,0.4,0.6,0.8,1,1.2,1.4,1.6,1.8,2], "format": "~g", "labelOverlap": false}},
                "y": {"field": "y", "type": "quantitative", "scale": {"domain": [0, 100], "nice": false},
                      "axis": {"title": "Angles of Amplitude Wavefront (degree)", "values": [0,20,40,60,80,100], "titleX": -28.5, "labelOverlap": false}},
                "color": {"field": "e", "type": "nominal", "legend": null,
                          "scale": {"domain": ["15|60","30|60","45|60","15|30","30|30","45|30"],
                                    "range": ["#7E2F8E","#77AC30","#4DBEEE","#0072BD","#D95319","#EDB120"]}},
                "strokeDash": {"field": "e", "type": "nominal", "legend": null,
                               "scale": {"domain": ["15|60","30|60","45|60","15|30","30|30","45|30"],
                                         "range": [[1,0],[6,3],[1.5,2],[1,0],[6,3],[1.5,2]]}},
                "detail": {"field": "s"}
              }
            },
            {
              "data": {"name": "sc"},
              "mark": {"type": "point", "filled": false, "size": 36, "strokeWidth": 1.2, "opacity": 1},
              "encoding": {
                "x": {"field": "x", "type": "quantitative"},
                "y": {"field": "y", "type": "quantitative"},
                "color": {"field": "e", "type": "nominal", "legend": null,
                          "scale": {"domain": ["15|60","30|60","45|60","15|30","30|30","45|30"],
                                    "range": ["#7E2F8E","#77AC30","#4DBEEE","#0072BD","#D95319","#EDB120"]}}
              }
            },
            {
              "data": {"name": "sc"},
              "mark": {"type": "point", "filled": false, "opacity": 0, "size": 0.04, "color": "#222222"},
              "encoding": {
                "x": {"field": "x", "type": "quantitative"},
                "y": {"field": "y", "type": "quantitative"},
                "shape": {"datum": "Simulation",
                  "scale": {"domain": ["Theory", "Simulation"],
                            "range": ["M-48,0h12M-28,0h5M-20,0h5M-10,0h1M-8,0h1M-6,0h1M-4,0h1M-2,0h1",
                                      "M-2,0a2,2 0 1,0 4,0a2,2 0 1,0 -4,0"]},
                  "legend": {
                    "title": null, "orient": "none", "legendX": 101, "legendY": 225,
                    "direction": "horizontal", "columnPadding": 32, "symbolSize": 4, "symbolOpacity": 1,
                    "symbolStrokeColor": "#222222", "symbolFillColor": "transparent", "symbolStrokeWidth": 1.1,
                    "labelFont": "Liberation Sans", "labelFontSize": 12.6
                  }}
              }
            },
            {
              "data": {"name": "sc"},
              "mark": {"type": "point", "filled": false, "opacity": 0, "size": 0.04},
              "encoding": {
                "x": {"field": "x", "type": "quantitative"},
                "y": {"field": "y", "type": "quantitative"},
                "color": {"field": "e", "type": "nominal",
                          "scale": {"domain": ["15|60","30|60","45|60","15|30","30|30","45|30"],
                                    "range": ["#7E2F8E","#77AC30","#4DBEEE","#0072BD","#D95319","#EDB120"]},
                          "legend": {"title": null, "orient": "none", "legendX": 21, "legendY": 6, "values": ["15|60", "30|60"], "direction": "horizontal", "columnPadding": 19, "symbolOpacity": 1, "symbolSize": 4,
                                     "labelExpr": "datum.label == '15|60' ? 'εᵣ₁ = 15 (θᵢₙ = 60°)' : 'εᵣ₁ = 30 (θᵢₙ= 60°)'"}},
                "shape": {"field": "e", "type": "nominal",
                          "scale": {"domain": ["15|60","30|60","45|60","15|30","30|30","45|30"],
                                    "range": [
                                      "M-19,0H-5M-2.6,0a2.6,2.6 0 1,0 5.2,0a2.6,2.6 0 1,0 -5.2,0",
                                      "M-19,0h5M-11,0h5M-2.6,0a2.6,2.6 0 1,0 5.2,0a2.6,2.6 0 1,0 -5.2,0",
                                      "M-19,0h1M-17,0h1M-15,0h1M-13,0h1M-11,0h1M-9,0h1M-7,0h1M-2.6,0a2.6,2.6 0 1,0 5.2,0a2.6,2.6 0 1,0 -5.2,0",
                                      "M-19,0H-5M-2.6,0a2.6,2.6 0 1,0 5.2,0a2.6,2.6 0 1,0 -5.2,0",
                                      "M-19,0h5M-11,0h5M-2.6,0a2.6,2.6 0 1,0 5.2,0a2.6,2.6 0 1,0 -5.2,0",
                                      "M-19,0h1M-17,0h1M-15,0h1M-13,0h1M-11,0h1M-9,0h1M-7,0h1M-2.6,0a2.6,2.6 0 1,0 5.2,0a2.6,2.6 0 1,0 -5.2,0"
                                    ]},
                          "legend": {"title": null, "orient": "none", "legendX": 21, "legendY": 6, "values": ["15|60", "30|60"], "direction": "horizontal", "columnPadding": 19, "symbolOpacity": 1, "symbolSize": 4,
                                     "labelExpr": "datum.label == '15|60' ? 'εᵣ₁ = 15 (θᵢₙ = 60°)' : 'εᵣ₁ = 30 (θᵢₙ= 60°)'"}}
              }
            },
            {
              "data": {"name": "sc"},
              "mark": {"type": "point", "filled": false, "opacity": 0, "size": 0.04},
              "encoding": {
                "x": {"field": "x", "type": "quantitative"},
                "y": {"field": "y", "type": "quantitative"},
                "color": {"field": "e", "type": "nominal",
                          "scale": {"domain": ["15|60","30|60","45|60","15|30","30|30","45|30"],
                                    "range": ["#7E2F8E","#77AC30","#4DBEEE","#0072BD","#D95319","#EDB120"]},
                          "legend": {"title": null, "orient": "none", "legendX": 130, "legendY": 26, "values": ["45|60"], "symbolOpacity": 1, "symbolSize": 4,
                                     "labelExpr": "'εᵣ₁ = 45(θᵢₙ= 60°)'"}},
                "shape": {"field": "e", "type": "nominal",
                          "scale": {"domain": ["15|60","30|60","45|60","15|30","30|30","45|30"],
                                    "range": [
                                      "M-19,0H-5M-2.6,0a2.6,2.6 0 1,0 5.2,0a2.6,2.6 0 1,0 -5.2,0",
                                      "M-19,0h5M-11,0h5M-2.6,0a2.6,2.6 0 1,0 5.2,0a2.6,2.6 0 1,0 -5.2,0",
                                      "M-17,0h1M-15,0h1M-13,0h1M-11,0h1M-9,0h1M-7,0h1M-2.6,0a2.6,2.6 0 1,0 5.2,0a2.6,2.6 0 1,0 -5.2,0",
                                      "M-19,0H-5M-2.6,0a2.6,2.6 0 1,0 5.2,0a2.6,2.6 0 1,0 -5.2,0",
                                      "M-19,0h5M-11,0h5M-2.6,0a2.6,2.6 0 1,0 5.2,0a2.6,2.6 0 1,0 -5.2,0",
                                      "M-19,0h1M-17,0h1M-15,0h1M-13,0h1M-11,0h1M-9,0h1M-7,0h1M-2.6,0a2.6,2.6 0 1,0 5.2,0a2.6,2.6 0 1,0 -5.2,0"
                                    ]},
                          "legend": {"title": null, "orient": "none", "legendX": 130, "legendY": 26, "values": ["45|60"], "symbolOpacity": 1, "symbolSize": 4,
                                     "labelExpr": "'εᵣ₁ = 45(θᵢₙ= 60°)'"}}
              }
            },
            {
              "data": {"name": "sc"},
              "mark": {"type": "point", "filled": false, "opacity": 0, "size": 0.04},
              "encoding": {
                "x": {"field": "x", "type": "quantitative"},
                "y": {"field": "y", "type": "quantitative"},
                "color": {"field": "e", "type": "nominal",
                          "scale": {"domain": ["15|60","30|60","45|60","15|30","30|30","45|30"],
                                    "range": ["#7E2F8E","#77AC30","#4DBEEE","#0072BD","#D95319","#EDB120"]},
                          "legend": {"title": null, "orient": "none", "legendX": 152, "legendY": 157, "values": ["15|30", "30|30", "45|30"], "rowPadding": 7, "symbolOpacity": 1, "symbolSize": 4,
                                     "labelExpr": "'εᵣ₁ = ' + split(datum.label, '|')[0] + ' (θᵢₙ = 30°)'"}},
                "shape": {"field": "e", "type": "nominal",
                          "scale": {"domain": ["15|60","30|60","45|60","15|30","30|30","45|30"],
                                    "range": [
                                      "M-19,0H-5M-2.6,0a2.6,2.6 0 1,0 5.2,0a2.6,2.6 0 1,0 -5.2,0",
                                      "M-19,0h5M-11,0h5M-2.6,0a2.6,2.6 0 1,0 5.2,0a2.6,2.6 0 1,0 -5.2,0",
                                      "M-19,0h1M-17,0h1M-15,0h1M-13,0h1M-11,0h1M-9,0h1M-7,0h1M-2.6,0a2.6,2.6 0 1,0 5.2,0a2.6,2.6 0 1,0 -5.2,0",
                                      "M-19,0H-5M-2.6,0a2.6,2.6 0 1,0 5.2,0a2.6,2.6 0 1,0 -5.2,0",
                                      "M-19,0h5M-11,0h5M-2.6,0a2.6,2.6 0 1,0 5.2,0a2.6,2.6 0 1,0 -5.2,0",
                                      "M-19,0h1M-17,0h1M-15,0h1M-13,0h1M-11,0h1M-9,0h1M-7,0h1M-2.6,0a2.6,2.6 0 1,0 5.2,0a2.6,2.6 0 1,0 -5.2,0"
                                    ]},
                          "legend": {"title": null, "orient": "none", "legendX": 152, "legendY": 157, "values": ["15|30", "30|30", "45|30"], "rowPadding": 7, "symbolOpacity": 1, "symbolSize": 4,
                                     "labelExpr": "'εᵣ₁ = ' + split(datum.label, '|')[0] + ' (θᵢₙ = 30°)'"}}
              }
            }
          ]
        },
        {
          "width": 321,
          "height": 239,
          "title": {"text": "(d)"},
          "layer": [
            {
              "data": {"name": "td"},
              "mark": {"type": "line", "strokeWidth": 1.5, "interpolate": "monotone"},
              "encoding": {
                "x": {"field": "x", "type": "quantitative", "scale": {"domain": [0, 2], "nice": false},
                      "axis": {"title": "Conductivity of Medium 1 (S/m)", "values": [0,0.2,0.4,0.6,0.8,1,1.2,1.4,1.6,1.8,2], "format": "~g", "labelOverlap": false}},
                "y": {"field": "y", "type": "quantitative", "scale": {"domain": [10, 70], "nice": false},
                      "axis": {"title": "Angles of Phase Wavefront (degree)", "values": [10,20,30,40,50,60,70], "titleX": -23, "labelOverlap": false}},
                "color": {"field": "e", "type": "nominal", "legend": null,
                          "scale": {"domain": ["15|60","30|60","45|60","15|30","30|30","45|30"],
                                    "range": ["#7E2F8E","#77AC30","#4DBEEE","#0072BD","#D95319","#EDB120"]}},
                "strokeDash": {"field": "e", "type": "nominal", "legend": null,
                               "scale": {"domain": ["15|60","30|60","45|60","15|30","30|30","45|30"],
                                         "range": [[1,0],[6,3],[1.5,2],[1,0],[6,3],[1.5,2]]}}
              }
            },
            {
              "data": {"name": "sd"},
              "mark": {"type": "point", "filled": false, "size": 36, "strokeWidth": 1.2, "opacity": 1},
              "encoding": {
                "x": {"field": "x", "type": "quantitative"},
                "y": {"field": "y", "type": "quantitative"},
                "color": {"field": "e", "type": "nominal", "legend": null}
              }
            }
          ]
        }
      ]
    }
  ],
  "config": {
    "font": "Liberation Sans",
    "view": {"stroke": "#9a9a9a", "strokeWidth": 1},
    "axis": {
      "domain": false, "ticks": false, "grid": true, "labelOverlap": false,
      "gridColor": "#d4d4d4", "gridDash": [3, 3], "gridWidth": 0.8,
      "labelFont": "Liberation Sans", "labelFontSize": 11.3, "labelColor": "#2b2b2b", "labelPadding": 3,
      "titleFont": "Liberation Sans", "titleFontSize": 12.6, "titleFontWeight": "normal", "titleColor": "#1a1a1a"
    },
    "legend": {
      "labelFont": "DejaVu Serif", "labelFontSize": 12, "labelColor": "#1a1a1a",
      "padding": 0, "symbolStrokeWidth": 1.3, "labelOffset": 1, "rowPadding": 5
    },
    "title": {"font": "Liberation Serif", "fontSize": 14, "fontWeight": "bold", "color": "#111111", "orient": "bottom", "frame": "bounds", "offset": 12}
  }
}
